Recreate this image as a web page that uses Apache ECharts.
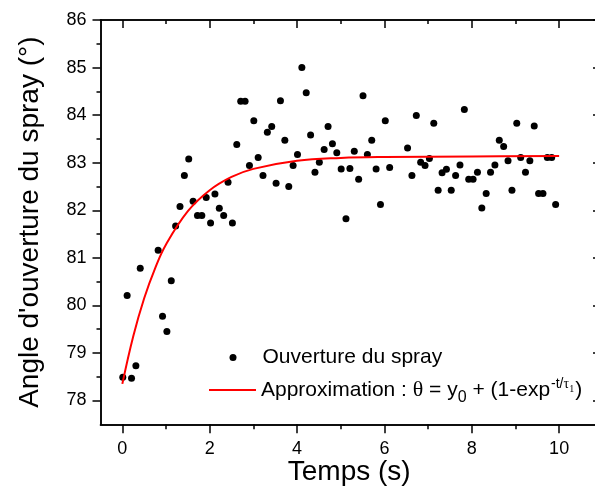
<!DOCTYPE html>
<html>
<head>
<meta charset="utf-8">
<script src="https://cdn.jsdelivr.net/npm/echarts@6/dist/echarts.min.js"></script>
<style>html,body{margin:0;padding:0;background:#fff;overflow:hidden;}#c{width:595px;height:493px;}</style>
</head>
<body>
<div id="c"></div>
<script>
// Measured points: time (s) and spray angle (°)
const times = [0.01,0.11,0.21,0.31,0.41,0.82,0.92,1.02,1.12,1.22,1.32,1.42,1.52,1.62,1.72,1.82,1.92,2.02,2.12,2.22,2.32,2.42,2.52,
  2.62,2.71,2.81,2.91,3.01,3.11,3.22,3.32,3.42,3.52,3.62,3.72,3.81,3.91,4.01,4.11,4.21,4.31,4.41,4.51,4.62,4.71,4.81,4.91,5.01,
  5.12,5.21,5.31,5.41,5.51,5.61,5.71,5.81,5.91,6.02,6.12,6.53,6.63,6.73,6.83,6.93,7.03,7.13,7.23,7.32,7.42,7.53,7.63,7.73,7.83,
  7.93,8.03,8.13,8.23,8.33,8.43,8.53,8.63,8.73,8.83,8.92,9.03,9.12,9.23,9.33,9.43,9.53,9.63,9.73,9.83,9.92];
const angles = [78.49,80.21,78.47,78.73,80.78,81.16,79.77,79.45,80.52,81.67,82.08,82.73,83.08,82.19,81.89,81.89,82.27,81.73,82.34,82.04,81.89,82.59,81.73,
  83.38,84.29,84.29,82.94,83.88,83.11,82.73,83.64,83.76,82.57,84.30,83.47,82.50,82.94,83.17,85.00,84.47,83.58,82.80,83.01,83.28,83.76,83.40,83.21,82.87,
  81.82,82.88,83.24,82.65,84.41,83.17,83.47,82.87,82.12,83.88,82.90,83.31,82.73,83.99,83.01,82.94,83.09,83.83,82.42,82.79,82.86,82.42,82.73,82.95,84.12,
  82.65,82.65,82.80,82.05,82.35,82.80,82.95,83.47,83.34,83.04,82.42,83.83,83.11,82.80,83.04,83.77,82.35,82.35,83.11,83.11,82.12];
// Fitted curve
const fitTimes  = [0, 0.25, 0.5, 0.75, 1, 1.5, 2, 2.5, 3, 4, 5, 6, 8, 10];
const fitAngles = [78.35, 79.35, 80.15, 80.78, 81.28, 81.98, 82.42, 82.70, 82.87, 83.04, 83.10, 83.12, 83.13, 83.14];
const xMajor = [0, 2, 4, 6, 8, 10];
const xMinor = [1, 3, 5, 7, 9];
const yMajor = [78, 79, 80, 81, 82, 83, 84, 85, 86];
const yMinor = [78.5, 79.5, 80.5, 81.5, 82.5, 83.5, 84.5, 85.5];

const FONT = 'Arial, "Liberation Sans", sans-serif';
const SERIF = '"Liberation Serif", "Times New Roman", serif';
const chart = echarts.init(document.getElementById('c'), null, {renderer: 'canvas'});
const line = {show: true, onZero: false, lineStyle: {color: '#000', width: 1.5}};
const xr = {type: 'value', min: -0.5, max: 10.89, splitLine: {show: false}};
const yr = {type: 'value', min: 77.5, max: 86, splitLine: {show: false}};

function xAx(pos, vals, len, inside, labels, extra) {
  return Object.assign({}, xr, {
    position: pos,
    axisLine: line,
    axisTick: {show: true, inside: inside, length: len, customValues: vals, lineStyle: {color: '#000', width: 1.5}},
    axisLabel: labels ? {show: true, customValues: vals, color: '#000', fontSize: 18, fontFamily: FONT, margin: 16} : {show: false}
  }, extra || {});
}
function yAx(pos, vals, len, inside, labels, extra) {
  return Object.assign({}, yr, {
    position: pos,
    axisLine: line,
    axisTick: {show: true, inside: inside, length: len, customValues: vals, lineStyle: {color: '#000', width: 1.5}},
    axisLabel: labels ? {show: true, customValues: vals, color: '#000', fontSize: 18, fontFamily: FONT, margin: 14} : {show: false}
  }, extra || {});
}

const option = {
  animation: false,
  backgroundColor: '#fff',
  grid: {left: 100.5, width: 497.5, top: 20, bottom: 68.7, containLabel: false, outerBoundsMode: 'none'},
  xAxis: [
    xAx('bottom', xMajor, 9, false, true, {name: 'Temps (s)', nameLocation: 'middle', nameGap: 34, nameMoveOverlap: false,
      nameTextStyle: {fontSize: 28, fontFamily: FONT, color: '#000'}}),
    xAx('bottom', xMinor, 5, false, false),
    xAx('top', xMajor, 8, true, false),
    xAx('top', xMinor, 4, true, false)
  ],
  yAxis: [
    yAx('left', yMajor, 8, false, true, {name: "Angle d'ouverture du spray (°)", nameLocation: 'middle', nameGap: 56,
      nameTextStyle: {fontSize: 28, fontFamily: FONT, color: '#000'}}),
    yAx('left', yMinor, 4, false, false),
    yAx('right', yMajor, 5, true, false)
  ],
  legend: [
    {
      data: [{name: 'Ouverture du spray', icon: 'circle'}], left: 229.5, top: 347, padding: 0,
      itemWidth: 7, itemHeight: 7, itemGap: 0, selectedMode: false,
      formatter: function (n) { return '{sp|}{a|' + n + '}'; },
      textStyle: {fontSize: 21, fontFamily: FONT, color: '#000',
        rich: {sp: {width: 21}, a: {fontSize: 21, fontFamily: FONT, color: '#000'}}}
    },
    {
      data: [{name: 'Approximation', icon: 'rect'}], left: 209, top: 377, padding: 0,
      itemWidth: 47, itemHeight: 2, itemGap: 0, selectedMode: false,
      formatter: function () {
        return '{a|Approximation : }{th|θ}{a| = y}{sub|0}{a| + (1-exp}{sup|-t/}{supt|τ}{ss|1}{a|)}';
      },
      textStyle: {
        fontSize: 21, fontFamily: FONT, color: '#000',
        rich: {
          a: {fontSize: 21, fontFamily: FONT, color: '#000', lineHeight: 26, verticalAlign: 'bottom', padding: [0, 0, 2, 0]},
          th: {fontSize: 22, fontFamily: SERIF, color: '#000', lineHeight: 26, verticalAlign: 'bottom', padding: [0, 0, 2, 0]},
          sub: {fontSize: 16, fontFamily: FONT, color: '#000', lineHeight: 16, verticalAlign: 'bottom', padding: [0, 0, -3, 0]},
          sup: {fontSize: 14, fontFamily: FONT, color: '#000', lineHeight: 14, verticalAlign: 'top', padding: [0, 0, 0, 1]},
          supt: {fontSize: 14, fontFamily: SERIF, color: '#000', lineHeight: 14, verticalAlign: 'top'},
          ss: {fontSize: 10, fontFamily: SERIF, color: '#000', lineHeight: 10, verticalAlign: 'top', padding: [7, 1, 0, 0]}
        }
      }
    }
  ],
  series: [
    {
      name: 'Ouverture du spray', type: 'scatter', xAxisIndex: 0, yAxisIndex: 0,
      symbol: 'circle', symbolSize: 7, itemStyle: {color: '#000', opacity: 1},
      data: times.map((t, i) => [t, angles[i]]), z: 3
    },
    {
      name: 'Approximation', type: 'line', xAxisIndex: 0, yAxisIndex: 0,
      smooth: 0.4, symbol: 'none', showSymbol: false, lineStyle: {color: '#ff0000', width: 2}, itemStyle: {color: '#ff0000'},
      data: fitTimes.map((t, i) => [t, fitAngles[i]]), z: 4
    }
  ]
};
chart.setOption(option);
</script>
</body>
</html>
